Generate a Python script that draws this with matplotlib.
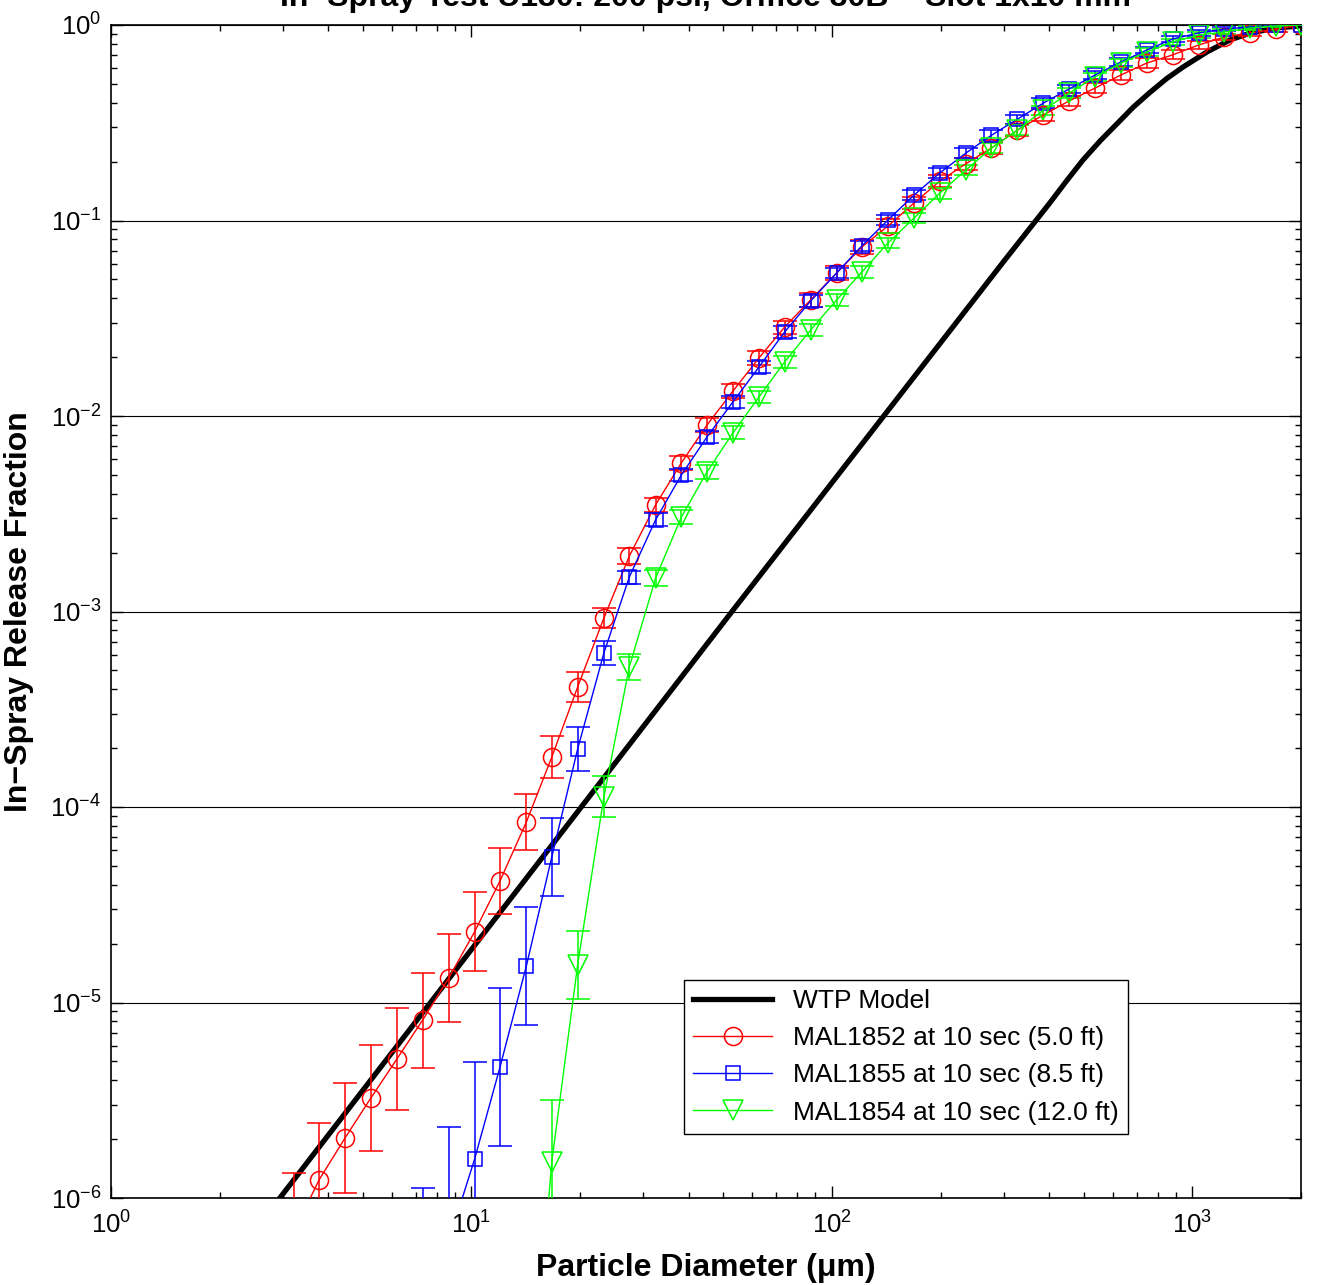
import matplotlib
matplotlib.use('Agg')
import matplotlib.pyplot as plt
from matplotlib.ticker import FuncFormatter, LogLocator, NullFormatter
import numpy as np

plt.rcParams['font.family'] = ['Liberation Sans', 'DejaVu Sans']
plt.rcParams['mathtext.default'] = 'regular'

# particle size bins (um)
diam = [3.21, 3.78, 4.46, 5.26, 6.21, 7.32, 8.64, 10.2, 12.0, 14.2,
        16.7, 19.7, 23.3, 27.4, 32.4, 38.2, 45.0, 53.1, 62.7, 73.9,
        87.2, 103, 121, 143, 169, 199, 235, 277, 327, 386,
        455, 537, 633, 747, 881, 1040, 1226, 1447, 1706, 2000]

# MAL1852 (5.0 ft), starts at 3.21 um
red_y = [6.7e-7, 1.24e-6, 2.03e-6, 3.25e-6, 5.14e-6, 8.13e-6, 1.33e-5, 2.30e-5, 4.19e-5, 8.38e-5,
         1.80e-4, 4.11e-4, 9.27e-4, 1.92e-3, 3.51e-3, 5.75e-3, 8.99e-3, 1.34e-2, 1.98e-2, 2.85e-2,
         3.92e-2, 5.39e-2, 7.32e-2, 9.37e-2, 0.123, 0.159, 0.195, 0.235, 0.290, 0.347,
         0.409, 0.476, 0.555, 0.639, 0.703, 0.790, 0.868, 0.910, 0.954, 1.0]
red_err = [2.00, 1.96, 1.91, 1.87, 1.82, 1.75, 1.68, 1.59, 1.48, 1.39,
           1.28, 1.20, 1.13, 1.10, 1.09, 1.086, 1.085, 1.085, 1.085, 1.08,
           1.08, 1.08, 1.08, 1.08, 1.075, 1.075, 1.075, 1.07, 1.07, 1.07,
           1.065, 1.065, 1.06, 1.06, 1.055, 1.05, 1.04, 1.035, 1.03, 1.0]

# MAL1855 (8.5 ft), starts at 7.32 um
blue_y = [2.5e-7, 6.0e-7, 1.58e-6, 4.68e-6, 1.54e-5, 5.55e-5, 1.98e-4, 6.14e-4, 1.50e-3, 2.94e-3,
          4.99e-3, 7.81e-3, 1.18e-2, 1.78e-2, 2.69e-2, 3.87e-2, 5.39e-2, 7.41e-2, 0.1006, 0.135,
          0.175, 0.221, 0.273, 0.330, 0.399, 0.471, 0.555, 0.647, 0.745, 0.848,
          0.910, 0.954, 0.977, 0.995, 1.0]
blue_err = [4.5, 3.83, 3.13, 2.54, 2.0, 1.59, 1.30, 1.15, 1.08, 1.08,
            1.075, 1.075, 1.07, 1.07, 1.07, 1.07, 1.065, 1.065, 1.065, 1.06,
            1.06, 1.06, 1.06, 1.055, 1.055, 1.05, 1.05, 1.045, 1.04, 1.035,
            1.03, 1.02, 1.01, 1.005, 1.0]

# MAL1854 (12.0 ft), starts at 14.2 um
green_y = [4.0e-8, 1.53e-6, 1.56e-5, 1.13e-4, 5.20e-4, 1.48e-3, 3.04e-3, 5.17e-3, 8.19e-3, 1.25e-2,
           1.89e-2, 2.75e-2, 3.92e-2, 5.45e-2, 7.67e-2, 0.103, 0.138, 0.181, 0.235, 0.290,
           0.367, 0.449, 0.542, 0.639, 0.728, 0.819, 0.889, 0.921, 0.965, 0.99, 1.0]
green_err = [3.0, 2.07, 1.49, 1.27, 1.16, 1.10, 1.085, 1.08, 1.08, 1.075,
             1.075, 1.07, 1.07, 1.07, 1.065, 1.065, 1.065, 1.06, 1.06, 1.06,
             1.055, 1.055, 1.05, 1.05, 1.045, 1.04, 1.035, 1.03, 1.02, 1.01, 1.0]

# WTP model curve
wtp_d = [2.8, 2.94, 52.8, 300, 402, 448, 497, 554, 617, 685, 762, 848, 942,
         1097, 1270, 1447, 1707, 2000]
wtp_f = [8.9e-7, 1.0e-6, 1.0e-3, 6.2e-2, 0.123, 0.160, 0.204, 0.255, 0.312, 0.380,
         0.452, 0.532, 0.610, 0.728, 0.838, 0.910, 0.966, 0.99]

fig = plt.figure(figsize=(13.18, 12.85), dpi=100)
ax = fig.add_axes([111 / 1318, 1 - 1198 / 1285, 1190 / 1318, 1173 / 1285])

ax.plot(wtp_d, wtp_f, color='k', lw=3.8, label='WTP Model', zorder=3)

series = [
    (diam[0:], red_y, red_err, 'r', 'o', 13, 'MAL1852 at 10 sec (5.0 ft)'),
    (diam[5:], blue_y, blue_err, 'b', 's', 10, 'MAL1855 at 10 sec (8.5 ft)'),
    (diam[9:], green_y, green_err, (0, 1, 0), 'v', 14, 'MAL1854 at 10 sec (12.0 ft)'),
]
for x, y, f, c, m, ms, lab in series:
    y = np.array(y)
    f = np.array(f)
    yerr = [y - y / f, y * f - y]
    ax.errorbar(x, y, yerr=yerr, fmt='none', ecolor=c, elinewidth=1.1,
                capsize=8.5, capthick=1.1, zorder=4)
    ax.plot(x, y, color=c, lw=1.0, marker=m, ms=ms, mfc='none', mec=c,
            mew=1.1, label=lab, zorder=5)

ax.set_xscale('log')
ax.set_yscale('log')
ax.set_xlim(1, 2000)
ax.set_ylim(1e-6, 1)

fmt = FuncFormatter(lambda v, p: r'$\mathregular{10^{%d}}$' % round(np.log10(v)))
ax.xaxis.set_major_formatter(fmt)
ax.yaxis.set_major_formatter(fmt)
ax.xaxis.set_minor_formatter(NullFormatter())
ax.yaxis.set_minor_formatter(NullFormatter())
ax.yaxis.set_major_locator(LogLocator(base=10, numticks=10))
ax.yaxis.set_minor_locator(LogLocator(base=10, subs=np.arange(2, 10), numticks=20))

ax.tick_params(which='both', direction='in', top=True, right=True, labelsize=18.5, width=1)
ax.tick_params(which='major', length=8.5, pad=7)
ax.tick_params(axis='x', which='major', pad=10)
ax.tick_params(which='minor', length=4.3)
for s in ax.spines.values():
    s.set_linewidth(1.2)

ax.grid(True, which='major', axis='y', color='k', lw=0.8)
ax.set_axisbelow(False)

ax.set_xlabel('Particle Diameter (μm)', fontsize=23, fontweight='bold', labelpad=10)
ax.set_ylabel('In−Spray Release Fraction', fontsize=23, fontweight='bold', labelpad=12)

fig.text(706 / 1318, 1 - 6 / 1285, 'In−Spray Test U130: 200 psi, Orifice 30B − Slot 1x10 mm',
         ha='center', va='baseline', fontsize=23, fontweight='bold')

leg = ax.legend(loc='upper left', bbox_to_anchor=(0.4815, 0.186), fontsize=19,
                handlelength=3.0, fancybox=False, framealpha=1, edgecolor='k',
                borderaxespad=0, labelspacing=0.5, borderpad=0.35)
leg.get_frame().set_linewidth(1.0)

fig.savefig('out.png', dpi=100)
